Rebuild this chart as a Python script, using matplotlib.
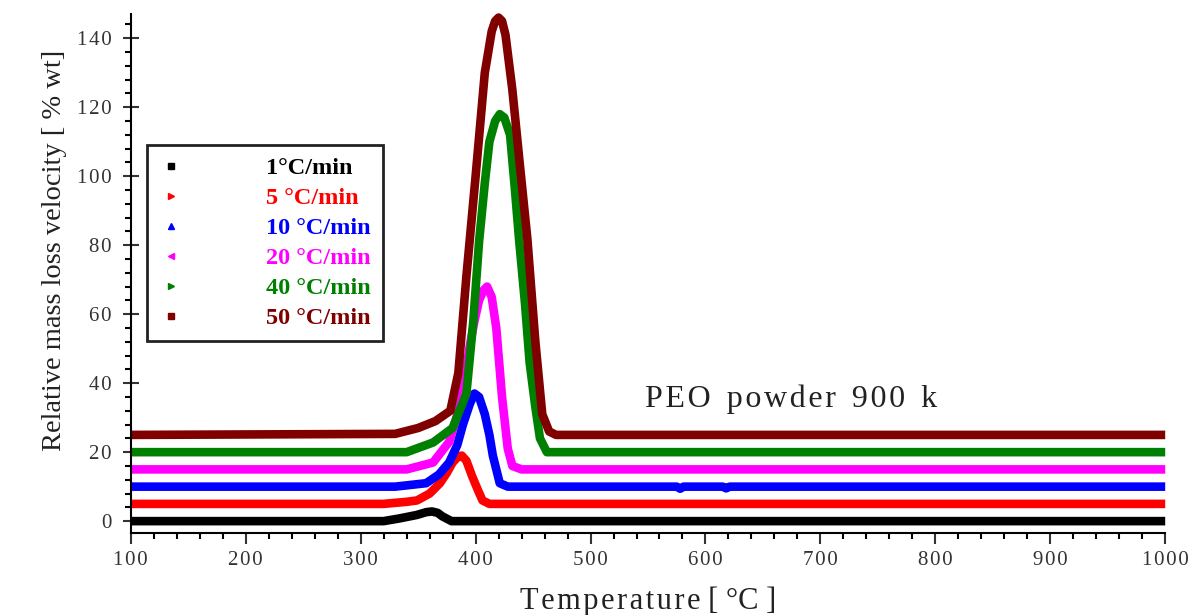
import numpy as np
import matplotlib
matplotlib.use("Agg")
from matplotlib import pyplot as plt
from matplotlib.lines import Line2D
from matplotlib.ticker import FuncFormatter

# temperature [C] / relative mass loss velocity [% wt]
t_1 = [100, 320, 334, 349, 357, 362, 367, 371, 379, 390, 1000]
v_1 = [0, 0, 0.8, 1.8, 2.6, 2.8, 2.4, 1.4, 0, 0, 0]

t_5 = [100, 320, 340, 349, 360, 369, 375, 380, 385, 388, 392, 397, 402, 406, 412, 1000]
v_5 = [5, 5, 5.6, 6, 8, 11, 14, 17, 18.8, 19, 17.5, 13, 9, 6, 5, 5]

t_10 = [100, 330, 357, 368, 377, 384, 389, 395, 399, 403, 408, 412, 415, 421, 428,
        575, 578, 581, 615, 618, 621, 1000]
v_10 = [10, 10, 11, 13.5, 17, 22, 28, 34, 37, 36, 31, 25, 19, 11, 10,
        10, 9.4, 10, 10, 9.5, 10, 10]

t_20 = [100, 340, 363, 377, 386, 391, 395, 399, 403, 407, 410, 414, 418, 423, 428, 432, 440, 1000]
v_20 = [15, 15, 17, 23, 33, 42, 51, 58, 64, 67, 68, 65, 56, 36, 21, 16, 15, 15]

t_40 = [100, 340, 363, 380, 392, 398, 403, 408, 412, 417, 421, 425, 430, 434, 438, 443, 447, 452, 456, 462, 1000]
v_40 = [20, 20, 22.8, 27, 37, 58, 81, 98, 110, 116, 118, 117, 112, 97, 81, 63, 46, 33, 24, 20, 20]

t_50 = [100, 330, 350, 365, 378, 385, 392, 400, 408, 414, 417, 420, 423, 426, 432, 438, 445, 452, 458, 464, 470, 1000]
v_50 = [25, 25.3, 27, 29, 32, 43, 71, 100, 130, 142, 145, 146, 145, 141, 125, 105, 82, 52, 31, 26, 25, 25]

series = [
    (t_1, v_1, 'black', 's', '1°C/min'),
    (t_5, v_5, 'red', '>', '5 °C/min'),
    (t_10, v_10, 'blue', '^', '10 °C/min'),
    (t_20, v_20, 'magenta', '<', '20 °C/min'),
    (t_40, v_40, 'green', '>', '40 °C/min'),
    (t_50, v_50, 'maroon', 's', '50 °C/min'),
]

plt.rcParams['font.family'] = ['Liberation Serif', 'DejaVu Serif']

def spaced(s):
    return '\u200a'.join(s)

fig = plt.figure(figsize=(12, 6.15), dpi=100)
ax = fig.add_axes([0.109, 0.133, 0.862, 0.844])

handles = []
for t, v, c, m, lab in series:
    ax.plot(t, v, color=c, lw=6.2, solid_capstyle='butt', solid_joinstyle='round', clip_on=False)
    handles.append(Line2D([], [], color=c, marker=m, ls='none', markersize=5))

ax.set_xlim(100, 1000)
ax.set_ylim(-3.5, 147)
ax.set_xticks(np.arange(100, 1001, 100))
ax.set_xticks(np.arange(100, 1001, 20), minor=True)
ax.set_yticks(np.arange(0, 141, 20))
ax.set_yticks(np.arange(0, 147, 4), minor=True)
ax.xaxis.set_major_formatter(FuncFormatter(lambda v, p: spaced('%d' % v)))
ax.yaxis.set_major_formatter(FuncFormatter(lambda v, p: spaced('%d' % v)))
ax.spines['top'].set_visible(False)
ax.spines['right'].set_visible(False)
ax.spines['left'].set_linewidth(1.5)
ax.spines['bottom'].set_linewidth(1.5)
ax.tick_params(which='major', direction='out', length=8, width=1.5, labelsize=15, colors='#333333')
ax.tick_params(which='minor', direction='out', length=4, width=1.5)
ax.tick_params(axis='y', which='major', direction='inout', length=12, pad=8)
ax.tick_params(axis='x', pad=5)

ax.set_xlabel(spaced('Temperature') + ' [ °C ]', fontsize=22, labelpad=12, color='#222222')
ax.set_ylabel('Relative mass loss velocity [ % wt]', fontsize=20.5, color='#222222')
ax.yaxis.set_label_coords(-0.062, 0.545)

ax.text(547, 33, spaced('PEO') + '  ' + spaced('powder') + '  ' + spaced('900') + '  k',
        fontsize=23, color='#222222')

leg = ax.legend(handles, [s[4] for s in series], loc='upper left',
                bbox_to_anchor=(0.0155, 0.748), borderaxespad=0, fancybox=False, framealpha=1,
                edgecolor='#222222', handlelength=1.0, handletextpad=3.4,
                labelspacing=0.33, borderpad=0.5,
                prop={'family': 'Liberation Serif', 'weight': 'bold', 'size': 17.5})
leg.get_frame().set_linewidth(2)
for txt, s in zip(leg.get_texts(), series):
    txt.set_color(s[2])

fig.savefig('out.png', dpi=100)
